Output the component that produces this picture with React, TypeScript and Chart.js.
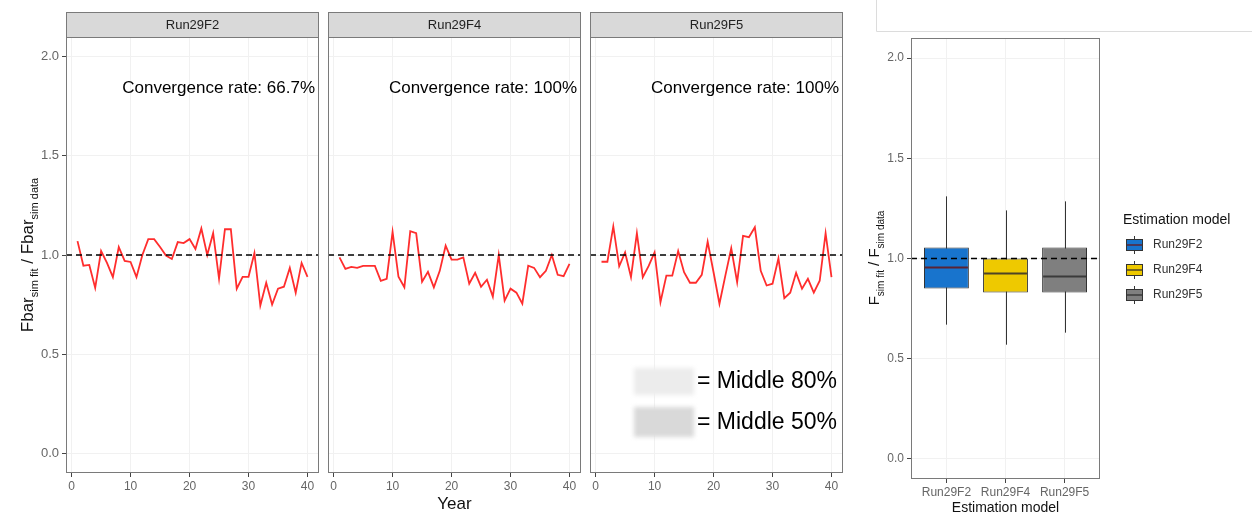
import React, { useEffect, useRef } from "react";
import { Chart, registerables } from "chart.js";

Chart.register(...registerables);

const FONT = '"Liberation Sans", Arial, Helvetica, sans-serif';
Chart.defaults.font.family = FONT;

// ---------- data ----------
const years = [1, 2, 3, 4, 5, 6, 7, 8, 9, 10, 11, 12, 13, 14, 15, 16, 17, 18, 19, 20, 21, 22, 23, 24, 25, 26, 27, 28, 29, 30, 31, 32, 33, 34, 35, 36, 37, 38, 39, 40];
const panelNames = ["Run29F2", "Run29F4", "Run29F5"];
const convergenceLabels = ["Convergence rate: 66.7%", "Convergence rate: 100%", "Convergence rate: 100%"];
const ratioRun29F2 = [1.07, 0.946, 0.95, 0.834, 1.02, 0.96, 0.888, 1.04, 0.97, 0.965, 0.888, 1.0, 1.08, 1.08, 1.04, 0.997, 0.98, 1.065, 1.06, 1.08, 1.03, 1.134, 1.0, 1.11, 0.88, 1.13, 1.13, 0.83, 0.89, 0.89, 1.01, 0.745, 0.86, 0.75, 0.83, 0.84, 0.935, 0.81, 0.96, 0.89];
const ratioRun29F4 = [0.988, 0.93, 0.94, 0.935, 0.945, 0.945, 0.945, 0.87, 0.88, 1.117, 0.89, 0.837, 1.12, 1.11, 0.865, 0.915, 0.837, 0.92, 1.047, 0.977, 0.977, 0.988, 0.855, 0.91, 0.84, 0.875, 0.79, 1.0, 0.77, 0.83, 0.81, 0.754, 0.946, 0.935, 0.888, 0.92, 1.0, 0.9, 0.893, 0.955];
const ratioRun29F5 = [0.966, 0.966, 1.144, 0.943, 1.013, 0.888, 1.11, 0.888, 0.945, 1.013, 0.762, 0.896, 0.896, 1.02, 0.913, 0.86, 0.86, 0.9, 1.067, 0.913, 0.754, 0.896, 1.034, 0.863, 1.097, 1.09, 1.14, 0.92, 0.846, 0.855, 0.983, 0.782, 0.81, 0.91, 0.83, 0.88, 0.81, 0.87, 1.11, 0.888];
const yTicks = [0, 0.5, 1, 1.5, 2];
const xTicks = [0, 10, 20, 30, 40];
const referenceLine = 1;
const middleLabels = ["= Middle 80%", "= Middle 50%"];

const boxModels = ["Run29F2", "Run29F4", "Run29F5"];
const boxLow = [0.67, 0.57, 0.63];
const boxQ1 = [0.85, 0.83, 0.83];
const boxMedian = [0.955, 0.925, 0.91];
const boxQ3 = [1.055, 1.0, 1.055];
const boxHigh = [1.31, 1.24, 1.285];
const boxColors = ["#1874CD", "#EEC900", "#7F7F7F"];
const medianColors = ["#5b2333", "#4d4326", "#3a3a3a"];

const seriesByPanel = [ratioRun29F2, ratioRun29F4, ratioRun29F5];

// ---------- helpers ----------
type Part = [string, boolean];
function drawRotatedTitle(ctx: CanvasRenderingContext2D, cx: number, cy: number, parts: Part[], mainSize: number, subSize: number) {
  ctx.save();
  ctx.translate(cx, cy);
  ctx.rotate(-Math.PI / 2);
  const widths = parts.map(([t, sub]) => {
    ctx.font = `${sub ? subSize : mainSize}px ${FONT}`;
    return ctx.measureText(t).width;
  });
  const total = widths.reduce((a, b) => a + b, 0);
  let x = -total / 2;
  ctx.fillStyle = "#111";
  ctx.textAlign = "left";
  ctx.textBaseline = "alphabetic";
  parts.forEach(([t, sub], k) => {
    ctx.font = `${sub ? subSize : mainSize}px ${FONT}`;
    ctx.fillText(t, x, sub ? mainSize * 0.36 + mainSize * 0.28 : mainSize * 0.36);
    x += widths[k];
  });
  ctx.restore();
}

function ChartCanvas({ left, width, makeConfig }: { left: number; width: number; makeConfig: () => any }) {
  const ref = useRef<HTMLCanvasElement>(null);
  useEffect(() => {
    const chart = new Chart(ref.current as HTMLCanvasElement, makeConfig());
    return () => chart.destroy();
  }, []);
  return (
    <canvas
      ref={ref}
      width={width}
      height={518}
      style={{ position: "absolute", left, top: 0, width, height: 518 }}
    />
  );
}

// ---------- facet panels ----------
function facetConfig(i: number) {
  const series = seriesByPanel[i];
  const isFirst = i === 0;
  const decor = {
    id: "facetDecor" + i,
    afterDatasetsDraw(chart: any) {
      const { ctx, chartArea: a, scales } = chart;
      const yRef = scales.y.getPixelForValue(referenceLine);
      ctx.save();
      ctx.strokeStyle = "#000";
      ctx.lineWidth = 1.5;
      ctx.setLineDash([6, 4]);
      ctx.beginPath();
      ctx.moveTo(a.left, yRef);
      ctx.lineTo(a.right, yRef);
      ctx.stroke();
      ctx.restore();
    },
    afterDraw(chart: any) {
      const { ctx, chartArea: a } = chart;
      ctx.save();
      // panel border
      ctx.strokeStyle = "#7a7a7a";
      ctx.lineWidth = 1;
      ctx.strokeRect(a.left + 0.5, a.top + 0.5, a.right - a.left - 1, a.bottom - a.top - 1);
      // strip
      ctx.fillStyle = "#d9d9d9";
      ctx.fillRect(a.left, 12, a.right - a.left, a.top - 12);
      ctx.strokeRect(a.left + 0.5, 12.5, a.right - a.left - 1, a.top - 12);
      ctx.fillStyle = "#222";
      ctx.font = `13px ${FONT}`;
      ctx.textAlign = "center";
      ctx.textBaseline = "middle";
      ctx.fillText(panelNames[i], (a.left + a.right) / 2, 25);
      // convergence text
      ctx.fillStyle = "#000";
      ctx.font = `17px ${FONT}`;
      ctx.textAlign = "right";
      ctx.fillText(convergenceLabels[i], a.right - 4, 88);
      if (isFirst) {
        drawRotatedTitle(ctx, 27, 255, [["Fbar", false], ["sim fit", true], [" / Fbar", false], ["sim data", true]], 17, 11);
      }
      if (i === 1) {
        ctx.fillStyle = "#111";
        ctx.font = `17px ${FONT}`;
        ctx.textAlign = "center";
        ctx.fillText("Year", (a.left + a.right) / 2, 504);
      }
      if (i === 2) {
        // middle % key
        ctx.filter = "blur(2px)";
        ctx.fillStyle = "#ececec";
        ctx.fillRect(48, 368, 60, 27);
        ctx.fillStyle = "#d9d9d9";
        ctx.fillRect(48, 407, 60, 30);
        ctx.filter = "none";
        ctx.fillStyle = "#000";
        ctx.font = `23px ${FONT}`;
        ctx.textAlign = "left";
        ctx.fillText(middleLabels[0], 111, 382);
        ctx.fillText(middleLabels[1], 111, 423);
      }
      ctx.restore();
    },
  };
  return {
    type: "line",
    data: {
      datasets: [
        {
          data: years.map((yr, k) => ({ x: yr, y: series[k] })),
          borderColor: "#ff2d2d",
          borderWidth: 1.8,
          pointRadius: 0,
          tension: 0,
        },
      ],
    },
    options: {
      responsive: false,
      animation: false,
      devicePixelRatio: 1,
      events: [],
      layout: { padding: { top: 37, right: isFirst ? 4 : 3, left: isFirst ? 0 : 4, bottom: 0 } },
      plugins: { legend: { display: false }, tooltip: { enabled: false } },
      scales: {
        x: {
          type: "linear",
          min: -0.95,
          max: 41.95,
          afterBuildTicks: (s: any) => {
            s.ticks = xTicks.map((v) => ({ value: v }));
          },
          afterFit: (s: any) => {
            s.height = 45;
          },
          grid: { color: "#f1f1f1", tickColor: "#444", tickLength: 4 },
          border: { display: false },
          ticks: { color: "#666", font: { size: 12, family: FONT }, padding: 2, maxRotation: 0, autoSkip: false, callback: (v: any) => String(v) },
        },
        y: {
          type: "linear",
          min: -0.1,
          max: 2.1,
          afterBuildTicks: (s: any) => {
            s.ticks = yTicks.map((v) => ({ value: v }));
          },
          afterFit: (s: any) => {
            s.width = isFirst ? 66 : 0;
          },
          grid: { color: "#f1f1f1", tickColor: "#444", tickLength: 4, drawTicks: isFirst },
          border: { display: false },
          ticks: { display: isFirst, color: "#666", font: { size: 13, family: FONT }, padding: 3, callback: (v: any) => Number(v).toFixed(1) },
        },
      },
    },
    plugins: [decor],
  };
}

// ---------- box plot ----------
function boxConfig() {
  const decor = {
    id: "boxDecor",
    beforeDatasetsDraw(chart: any) {
      const { ctx, scales } = chart;
      ctx.save();
      ctx.strokeStyle = "#333";
      ctx.lineWidth = 1;
      boxModels.forEach((_, k) => {
        const x = Math.round(scales.x.getPixelForValue(k + 1)) + 0.5;
        ctx.beginPath();
        ctx.moveTo(x, scales.y.getPixelForValue(boxLow[k]));
        ctx.lineTo(x, scales.y.getPixelForValue(boxHigh[k]));
        ctx.stroke();
      });
      ctx.restore();
    },
    afterDatasetsDraw(chart: any) {
      const { ctx, scales, chartArea: a } = chart;
      const meta = chart.getDatasetMeta(0);
      ctx.save();
      ctx.lineWidth = 2;
      boxModels.forEach((_, k) => {
        const bar = meta.data[k];
        const half = bar.width / 2;
        const y = scales.y.getPixelForValue(boxMedian[k]);
        ctx.strokeStyle = medianColors[k];
        ctx.beginPath();
        ctx.moveTo(bar.x - half + 1, y);
        ctx.lineTo(bar.x + half - 1, y);
        ctx.stroke();
      });
      const yRef = scales.y.getPixelForValue(referenceLine);
      ctx.strokeStyle = "#000";
      ctx.lineWidth = 1.5;
      ctx.setLineDash([6, 4]);
      ctx.beginPath();
      ctx.moveTo(a.left, yRef);
      ctx.lineTo(a.right, yRef);
      ctx.stroke();
      ctx.restore();
    },
    afterDraw(chart: any) {
      const { ctx, chartArea: a } = chart;
      ctx.save();
      ctx.strokeStyle = "#7a7a7a";
      ctx.lineWidth = 1;
      ctx.strokeRect(a.left + 0.5, a.top + 0.5, a.right - a.left - 1, a.bottom - a.top - 1);
      // faint frame at the top right
      ctx.strokeStyle = "#dcdcdc";
      ctx.beginPath();
      ctx.moveTo(30.5, 0);
      ctx.lineTo(30.5, 31.5);
      ctx.lineTo(406, 31.5);
      ctx.stroke();
      // axis titles
      drawRotatedTitle(ctx, 28, 258, [["F", false], ["sim fit", true], [" / F", false], ["sim data", true]], 15, 10);
      ctx.fillStyle = "#111";
      ctx.font = `14px ${FONT}`;
      ctx.textAlign = "center";
      ctx.textBaseline = "middle";
      ctx.fillText("Estimation model", (a.left + a.right) / 2, 508);
      // legend
      ctx.textAlign = "left";
      ctx.fillText("Estimation model", 277, 220);
      boxModels.forEach((m, k) => {
        const cy = 245 + k * 25;
        const kx = 280;
        ctx.strokeStyle = "#333";
        ctx.lineWidth = 1;
        ctx.beginPath();
        ctx.moveTo(kx + 8.5, cy - 9);
        ctx.lineTo(kx + 8.5, cy + 9);
        ctx.stroke();
        ctx.fillStyle = boxColors[k];
        ctx.fillRect(kx, cy - 6, 17, 12);
        ctx.strokeRect(kx + 0.5, cy - 5.5, 16, 11);
        ctx.strokeStyle = medianColors[k];
        ctx.lineWidth = 1.5;
        ctx.beginPath();
        ctx.moveTo(kx + 1, cy);
        ctx.lineTo(kx + 16, cy);
        ctx.stroke();
        ctx.fillStyle = "#333";
        ctx.font = `12px ${FONT}`;
        ctx.fillText(m, 307, cy);
      });
      ctx.restore();
    },
  };
  return {
    type: "bar",
    data: {
      datasets: [
        {
          data: boxModels.map((_, k) => ({ x: k + 1, y: [boxQ1[k], boxQ3[k]] })),
          backgroundColor: boxColors,
          borderColor: "#333",
          borderWidth: 1,
          borderSkipped: false,
          barPercentage: 0.76,
          categoryPercentage: 1,
        },
      ],
    },
    options: {
      responsive: false,
      animation: false,
      devicePixelRatio: 1,
      events: [],
      layout: { padding: { top: 38, right: 152, left: 0, bottom: 0 } },
      plugins: { legend: { display: false }, tooltip: { enabled: false } },
      scales: {
        x: {
          type: "linear",
          offset: false,
          min: 0.4,
          max: 3.6,
          afterBuildTicks: (s: any) => {
            s.ticks = boxModels.map((_, k) => ({ value: k + 1 }));
          },
          afterFit: (s: any) => {
            s.height = 39;
          },
          grid: { color: "#f1f1f1", tickColor: "#444", tickLength: 4, offset: false },
          border: { display: false },
          ticks: {
            color: "#666",
            font: { size: 12, family: FONT },
            padding: 2,
            maxRotation: 0,
            autoSkip: false,
            callback: (v: any) => boxModels[Math.round(Number(v)) - 1] ?? "",
          },
        },
        y: {
          type: "linear",
          min: -0.1,
          max: 2.1,
          afterBuildTicks: (s: any) => {
            s.ticks = yTicks.map((v) => ({ value: v }));
          },
          afterFit: (s: any) => {
            s.width = 65;
          },
          grid: { color: "#f1f1f1", tickColor: "#444", tickLength: 4 },
          border: { display: false },
          ticks: { color: "#666", font: { size: 12, family: FONT }, padding: 3, callback: (v: any) => Number(v).toFixed(1) },
        },
      },
    },
    plugins: [decor],
  };
}

export default function App() {
  return (
    <div style={{ position: "absolute", left: 0, top: 0, width: 1252, height: 518, background: "#fff", overflow: "hidden" }}>
      <ChartCanvas left={0} width={323} makeConfig={() => facetConfig(0)} />
      <ChartCanvas left={324} width={260} makeConfig={() => facetConfig(1)} />
      <ChartCanvas left={586} width={260} makeConfig={() => facetConfig(2)} />
      <ChartCanvas left={846} width={406} makeConfig={boxConfig} />
    </div>
  );
}
